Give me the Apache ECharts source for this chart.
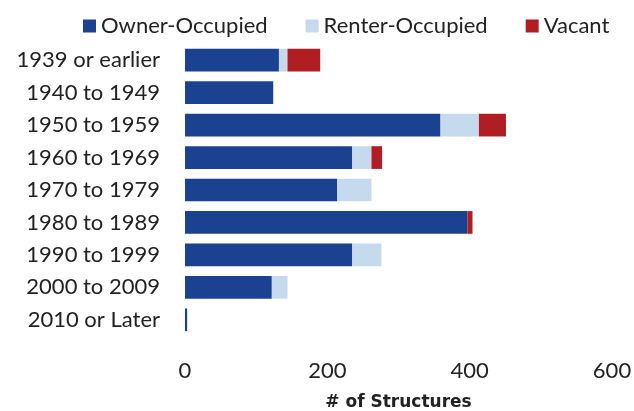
<!DOCTYPE html>
<html><head><meta charset="utf-8">
<script src="https://cdn.jsdelivr.net/npm/echarts@6/dist/echarts.min.js"></script>
<style>html,body{margin:0;padding:0;background:#fff}#c{width:634px;height:411px}</style>
</head><body><div id="c"></div>
<script>
const categories = ['1939 or earlier','1940 to 1949','1950 to 1959','1960 to 1969','1970 to 1979','1980 to 1989','1990 to 1999','2000 to 2009','2010 or Later'];
const ownerOccupied = [132, 124, 359, 235, 214, 397, 235, 122, 3];
const renterOccupied = [12, 0, 54, 27, 48, 0, 41, 22, 0];
const vacant = [46, 0, 38, 15, 0, 7, 0, 0, 0];
const xTicks = [0, 200, 400, 600];

const font = 'Lato, "DejaVu Sans", sans-serif';
const chart = echarts.init(document.getElementById('c'));
chart.setOption({
  animation: false,
  legend: {
    top: 10, left: 78, itemWidth: 13, itemHeight: 13, itemGap: 38,
    icon: 'rect',
    textStyle: {fontFamily: font, fontSize: 22, color: '#222'},
    data: ['Owner-Occupied','Renter-Occupied','Vacant']
  },
  grid: {left: 185, right: 22, top: 44, bottom: 75, containLabel: false, outerBoundsMode: 'none'},
  xAxis: {
    type: 'value', min: 0, max: 600, interval: 200,
    axisLine: {show: false}, axisTick: {show: false}, splitLine: {show: false},
    axisLabel: {fontFamily: font, fontSize: 22, color: '#222', margin: 24,
      formatter: v => xTicks.includes(v) ? String(v) : ''},
    name: '# of Structures', nameLocation: 'middle', nameGap: 58,
    nameTextStyle: {fontFamily: '"DejaVu Sans", sans-serif', fontSize: 17, fontWeight: 'bold', color: '#222'}
  },
  yAxis: {
    type: 'category', data: categories, inverse: true,
    axisLine: {show: false}, axisTick: {show: false},
    axisLabel: {fontFamily: font, fontSize: 22, color: '#222', margin: 25}
  },
  series: [
    {name: 'Owner-Occupied', type: 'bar', stack: 's', data: ownerOccupied, barCategoryGap: '30%', itemStyle: {color: '#1a4290'}},
    {name: 'Renter-Occupied', type: 'bar', stack: 's', data: renterOccupied, itemStyle: {color: '#c6daee'}},
    {name: 'Vacant', type: 'bar', stack: 's', data: vacant, itemStyle: {color: '#b01e23'}}
  ]
});
</script></body></html>
